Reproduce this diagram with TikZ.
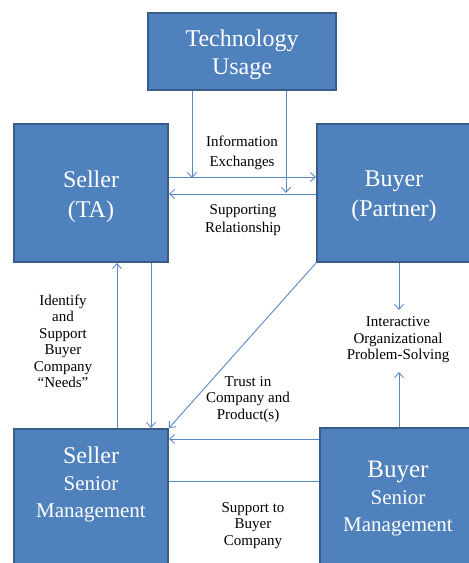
\documentclass[tikz,border=0pt]{standalone}
\usepackage{fontspec}
\setmainfont{Liberation Serif}
\usetikzlibrary{arrows.meta}
\definecolor{boxfill}{HTML}{4F81BD}
\definecolor{boxline}{HTML}{385D8A}
\definecolor{conn}{HTML}{5A87C5}
\tikzset{
  bluebox/.style={draw=boxline, fill=boxfill, line width=2pt, inner sep=0pt},
  boxtext/.style={text=white, align=center, inner sep=0pt},
  lbl/.style={align=center, inner sep=0pt, font=\fontsize{15}{16.5}\selectfont},
  arr/.style={draw=conn, line width=0.9pt, -{Straight Barb[length=5pt,width=9pt]}},
  ln/.style={draw=conn, line width=0.9pt},
}
\begin{document}
\begin{tikzpicture}[x=1pt,y=-1pt]
\useasboundingbox (0,0) rectangle (469,563);
\clip (0,0) rectangle (469,563);
% boxes
\node[bluebox, minimum width=188pt, minimum height=77pt] (tech) at (242,51.5) {};
\node[bluebox, minimum width=154pt, minimum height=138pt] (sta) at (91,193) {};
\node[bluebox, minimum width=155pt, minimum height=138pt] (bp) at (394.5,193) {};
\node[bluebox, minimum width=154pt, minimum height=140pt] (ssm) at (91,499) {};
\node[bluebox, minimum width=155pt, minimum height=142pt] (bsm) at (397.5,499) {};
% box texts
\node[boxtext, font=\fontsize{24}{28}\selectfont] (techt) at (242,55) {Technology\\Usage};
\node[boxtext, font=\fontsize{24}{30}\selectfont] (stat) at (91,196.5) {Seller\\(TA)};
\node[boxtext, font=\fontsize{24}{30}\selectfont] (bpt) at (394,196.5) {Buyer\\(Partner)};
\node[boxtext, font=\fontsize{21}{27}\selectfont] (ssmt) at (91,484) {\fontsize{24}{27}\selectfont Seller\\Senior\\Management};
\node[boxtext, font=\fontsize{21}{27}\selectfont] (bsmt) at (398,499) {\fontsize{25}{28}\selectfont Buyer\\Senior\\Management};
% labels
\node[lbl, font=\fontsize{15}{20}\selectfont] (info) at (242,153) {Information\\Exchanges};
\node[lbl, font=\fontsize{15}{18}\selectfont] (supp) at (243,220.5) {Supporting\\Relationship};
\node[lbl] (ident) at (63,341.5) {Identify\\and\\Support\\Buyer\\Company\\``Needs''};
\node[lbl] (trust) at (248,399.5) {Trust in\\Company and\\Product(s)};
\node[lbl] (ioa) at (398,340) {Interactive\\Organizational\\Problem-Solving};
\node[lbl] (sup2) at (253,525.5) {Support to\\Buyer\\Company};
\coordinate (ioaTop) at (399,310);
\coordinate (ioaBot) at (399,372);
% connectors
\draw[arr] ([xshift=-50pt]tech.south) -- ++(0,87);
\draw[arr] ([xshift=44pt]tech.south) -- ++(0,102);
\draw[arr] ([yshift=16pt]sta.east) -- ([yshift=16pt]bp.west);
\draw[arr] ([yshift=-1pt]bp.west) -- ([yshift=-1pt]sta.east);
\draw[arr] ([xshift=26pt]ssm.north) -- ([xshift=26pt]sta.south);
\draw[arr] ([xshift=60pt]sta.south) -- ([xshift=60pt]ssm.north);
\draw[arr] (bp.south west) -- (ssm.north east);
\draw[arr] (bp.south -| ioaTop) -- (ioaTop);
\draw[arr] (bsm.north -| ioaBot) -- (ioaBot);
\draw[arr] ([yshift=60pt]bsm.west) -- ([yshift=60pt]ssm.east);
\draw[ln] ([yshift=18pt]ssm.east) -- ([yshift=18pt]bsm.west);
\end{tikzpicture}
\end{document}
